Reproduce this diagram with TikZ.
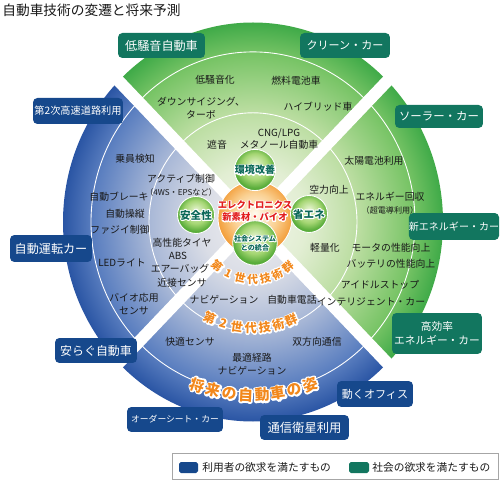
\documentclass[tikz,border=0pt]{standalone}
\usepackage{fontspec}
\setmainfont{Noto Sans CJK JP}
\usepackage{xcolor}
\usepackage{tikz}
\usetikzlibrary{calc,positioning}

\definecolor{socteal}{RGB}{18,118,95}
\definecolor{usrnavy}{RGB}{22,72,140}
\definecolor{genorange}{RGB}{242,136,28}
\definecolor{corered}{RGB}{226,30,30}
\definecolor{satink}{RGB}{10,104,88}
\definecolor{inkgray}{RGB}{25,25,25}
\definecolor{gfan0}{RGB}{243,246,236}
\definecolor{gfan1}{RGB}{226,238,211}
\definecolor{gfan2}{RGB}{186,221,160}
\definecolor{gfan3}{RGB}{120,196,102}
\definecolor{gfan4}{RGB}{63,170,72}
\definecolor{bfan0}{RGB}{238,238,240}
\definecolor{bfan1}{RGB}{218,221,230}
\definecolor{bfan2}{RGB}{166,182,214}
\definecolor{bfan3}{RGB}{91,127,192}
\definecolor{bfan4}{RGB}{42,85,164}
\definecolor{ballA}{RGB}{236,246,216}
\definecolor{ballB}{RGB}{165,214,115}
\definecolor{ballC}{RGB}{88,172,58}
\definecolor{coreA}{RGB}{255,250,238}
\definecolor{coreB}{RGB}{250,208,145}
\definecolor{coreC}{RGB}{243,160,62}

\pgfdeclareradialshading{greenfan}{\pgfpoint{0bp}{0bp}}{color(0bp)=(gfan0); color(7bp)=(gfan1); color(14bp)=(gfan2); color(21bp)=(gfan3); color(25bp)=(gfan4); color(50bp)=(gfan4)}
\pgfdeclareradialshading{bluefan}{\pgfpoint{0bp}{0bp}}{color(0bp)=(bfan0); color(7bp)=(bfan1); color(14bp)=(bfan2); color(21bp)=(bfan3); color(25bp)=(bfan4); color(50bp)=(bfan4)}
\pgfdeclareradialshading{greenball}{\pgfpoint{0bp}{6bp}}{color(0bp)=(ballA); color(16bp)=(ballB); color(25bp)=(ballC); color(50bp)=(ballC)}
\pgfdeclareradialshading{coreball}{\pgfpoint{0bp}{3bp}}{color(0bp)=(coreA); color(15bp)=(coreB); color(25bp)=(coreC); color(50bp)=(coreC)}

% white rim round a text: a stroked white copy under the filled one
\newcommand\glow[2][1.2]{\leavevmode
  \rlap{\color{white}\special{pdf:literal direct 1 Tr #1 w 1 j}#2\special{pdf:literal direct 0 Tr}}%
  #2}

\begin{document}
\begin{tikzpicture}[x=0.02cm, y=0.02cm,
  usrbox/.style={fill=usrnavy, text=white, rounded corners=2.5pt, inner sep=0pt, align=center},
  socbox/.style={usrbox, fill=socteal},
  item/.style={text=inkgray, font=\fontsize{5.6pt}{7.1pt}\selectfont, align=center, inner sep=0pt},
  sat/.style={circle, shading=greenball, draw=white, line width=0.5pt, minimum size=0.8cm, inner sep=0pt, text=satink, align=center},
  gentxt/.style={text=genorange, inner sep=0pt}]

\useasboundingbox (0,0) rectangle (500,480);
\coordinate (C) at (253,258);

% four quarters
\foreach \a/\fan in {45/greenfan,135/bluefan,225/bluefan,315/greenfan}{
  \begin{scope}[shift={(C)}, yscale=1.05]
    \clip (0,0) -- (\a:200) arc[start angle=\a, end angle=\a+90, radius=200] -- cycle;
    \shade[shading=\fan] (0,0) circle[radius=190];
  \end{scope}
}
\begin{scope}[shift={(C)}, yscale=1.05]
  \draw[white, line width=0.5pt] (0,0) circle[radius=162];
  \draw[white, line width=0.5pt] (0,0) circle[radius=104];
  \draw[white, line width=0.24cm] (135:200) -- (-45:200) (45:200) -- (225:200);
\end{scope}

\node[anchor=west, inner sep=0pt, text=inkgray, font=\fontsize{7.8pt}{9pt}\selectfont] (title) at (2,470) {自動車技術の変遷と将来予測};

% top
\node[item] (quiet) at (215,400) {低騒音化};
\node[item] (fuelcell) at (296,399) {燃料電池車};
\node[item] (downsize) at (201,372) {ダウンサイジング、\\ターボ};
\node[item] (hybrid) at (318,373) {ハイブリッド車};
\node[item] (sound) at (217,335) {遮音};
\node[item] (cng) at (279,341) {CNG/LPG\\メタノール自動車};
% left
\node[item] (occupant) at (135,321) {乗員検知};
\node[item] (active) at (181,295) {アクティブ制御\\{\fontsize{4.6pt}{5pt}\selectfont （4WS・EPSなど）}};
\node[item] (autobrake) at (119,283) {自動ブレーキ};
\node[item] (autopilot) at (125,266) {自動操縦};
\node[item] (fuzzy) at (120,250) {ファジイ制御};
\node[item] (tyre) at (182,237) {高性能タイヤ};
\node[item] (abs) at (178,224) {ABS};
\node[item] (led) at (122,217) {LEDライト};
\node[item] (airbag) at (180,211) {エアーバッグ};
\node[item] (proximity) at (182,197) {近接センサ};
\node[item] (bio) at (134,176) {バイオ応用\\センサ};
% bottom
\node[item] (navi) at (224,180) {ナビゲーション};
\node[item] (carphone) at (292,180) {自動車電話};
\node[item] (comfort) at (190,138) {快適センサ};
\node[item] (twoway) at (317,138) {双方向通信};
\node[item] (route) at (252,116) {最適経路\\ナビゲーション};
% right
\node[item] (solar) at (374,319) {太陽電池利用};
\node[item] (aero) at (329,290) {空力向上};
\node[item] (recover) at (390,277) {エネルギー回収\\{\fontsize{4.6pt}{5pt}\selectfont （超電導利用）}};
\node[item] (light) at (325,232) {軽量化};
\node[item] (motor) at (391,232) {モータの性能向上};
\node[item] (battery) at (391,216) {バッテリの性能向上};
\node[item] (idle) at (380,195) {アイドルストップ};
\node[item] (smart) at (371,178) {インテリジェント・カー};

% centre
\node[circle, shading=coreball, draw=white, line width=0.5pt, minimum size=1.48cm, inner sep=0pt] (core) at (255,262) {};
\node[sat, font=\bfseries\fontsize{5.7pt}{6pt}\selectfont] (env) at (255,310) {\glow{環境改善}};
\node[sat, minimum size=0.74cm, font=\bfseries\fontsize{6pt}{6pt}\selectfont] (safety) at (196,265) {\glow{安全性}};
\node[sat, minimum size=0.74cm, font=\bfseries\fontsize{6pt}{6pt}\selectfont] (saving) at (309,266) {\glow{省エネ}};
\node[sat, font=\bfseries\fontsize{4pt}{5pt}\selectfont] (social) at (255,237) {\glow[1]{社会システム}\\\glow[1]{との統合}};
\node[text=corered, align=center, inner sep=0pt, font=\bfseries\fontsize{5.3pt}{6.8pt}\selectfont] (coretxt) at (255,269) {\glow{エレクトロニクス}\\\glow{新素材・バイオ}};

% generation texts on arcs
\begin{scope}[shift={(C)}, yscale=1.05]
  \foreach \ch [count=\i] in {第,1,世,代,技,術,群}{
    \pgfmathsetmacro\ang{-130+(\i-1)*13.2}
    \node[gentxt, font=\bfseries\fontsize{6.2pt}{7pt}\selectfont, rotate=\ang+90] (genA-\i) at (\ang:55) {\glow[1.4]{\ch}};
  }
  \foreach \ch [count=\i] in {第,2,世,代,技,術,群}{
    \pgfmathsetmacro\ang{-115+(\i-1)*7.9}
    \node[gentxt, font=\bfseries\fontsize{6.9pt}{7pt}\selectfont, rotate=\ang+90] (genB-\i) at (\ang:101) {\glow[1.5]{\ch}};
  }
  \foreach \ch [count=\i] in {将,来,の,自,動,車,の,姿}{
    \pgfmathsetmacro\ang{-109.6+(\i-1)*5.69}
    \node[gentxt, font=\bfseries\fontsize{8.4pt}{8pt}\selectfont, rotate=\ang+90] (genC-\i) at (\ang:165) {\glow[1.8]{\ch}};
  }
\end{scope}

% outer labels
\node[socbox, minimum width=1.74cm, minimum height=0.5cm, font=\fontsize{6.9pt}{8pt}\selectfont] (lownoise) at (161.5,434.5) {低騒音自動車};
\node[socbox, minimum width=1.8cm, minimum height=0.5cm, font=\fontsize{6.3pt}{8pt}\selectfont] (clean) at (345,434.5) {クリーン・カー};
\node[socbox, minimum width=1.76cm, minimum height=0.46cm, font=\fontsize{6.5pt}{8pt}\selectfont] (solarcar) at (439,363.5) {ソーラー・カー};
\node[usrbox, minimum width=1.8cm, minimum height=0.52cm, font=\fontsize{5.8pt}{8pt}\selectfont] (highway) at (78,369) {第2次高速道路利用};
\node[usrbox, minimum width=1.64cm, minimum height=0.54cm, font=\fontsize{6.9pt}{8pt}\selectfont] (selfdrive) at (51,231.5) {自動運転カー};
\node[socbox, minimum width=1.8cm, minimum height=0.54cm, font=\fontsize{5.7pt}{8pt}\selectfont] (newenergy) at (454,253.5) {新エネルギー・カー};
\node[usrbox, minimum width=1.64cm, minimum height=0.5cm, font=\fontsize{6.8pt}{8pt}\selectfont] (relax) at (96,129.5) {安らぐ自動車};
\node[socbox, minimum width=1.8cm, minimum height=0.82cm, font=\fontsize{6.1pt}{8pt}\selectfont] (efficient) at (437,146.5) {高効率\\エネルギー・カー};
\node[usrbox, minimum width=1.52cm, minimum height=0.52cm, font=\fontsize{6.3pt}{8pt}\selectfont] (office) at (375,86) {動くオフィス};
\node[usrbox, minimum width=1.92cm, minimum height=0.5cm, font=\fontsize{5pt}{8pt}\selectfont] (order) at (175,60.5) {オーダーシート・カー};
\node[usrbox, minimum width=1.78cm, minimum height=0.5cm, font=\fontsize{7pt}{8pt}\selectfont] (satellite) at (304.5,52.5) {通信衛星利用};

% legend
\node[draw=gray!70, fill=white, minimum width=6.52cm, minimum height=0.52cm, inner sep=0pt] (legend) at (335,14) {};
\node[fill=usrnavy, rounded corners=1pt, minimum width=0.38cm, minimum height=0.22cm, inner sep=0pt] (keyusr) at (188.5,12.5) {};
\node[anchor=west, inner sep=0pt, text=inkgray, font=\fontsize{6.1pt}{7pt}\selectfont] (keyusrtxt) at (202,12.5) {利用者の欲求を満たすもの};
\node[fill=socteal, rounded corners=1pt, minimum width=0.4cm, minimum height=0.22cm, inner sep=0pt] (keysoc) at (359,12.5) {};
\node[anchor=west, inner sep=0pt, text=inkgray, font=\fontsize{6.1pt}{7pt}\selectfont] (keysoctxt) at (372,12.5) {社会の欲求を満たすもの};
\end{tikzpicture}
\end{document}
